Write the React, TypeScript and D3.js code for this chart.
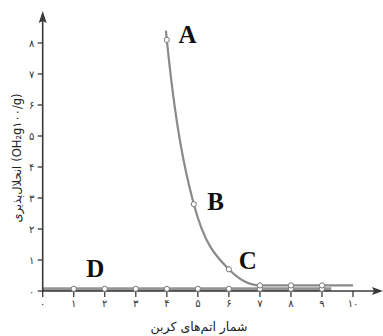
import React from "react";
import * as d3 from "d3";

const xTicks = [0, 1, 2, 3, 4, 5, 6, 7, 8, 9, 10];
const xTickLabels = ["۰", "۱", "۲", "۳", "۴", "۵", "۶", "۷", "۸", "۹", "۱۰"];
const yTicks = [0, 1, 2, 3, 4, 5, 6, 7, 8];
const yTickLabels = ["۰", "۱", "۲", "۳", "۴", "۵", "۶", "۷", "۸"];

// curve series (A, B, C ...)
const curveX = [3.97, 4.0, 4.87, 6.0, 7.0, 8.0, 9.0, 10.0];
const curveY = [8.4, 8.1, 2.8, 0.7, 0.18, 0.18, 0.18, 0.18];
const curveMarkX = [4.0, 4.87, 6.0, 7.0, 8.0, 9.0];
const curveMarkY = [8.1, 2.8, 0.7, 0.18, 0.18, 0.18];

// series D (near zero)
const dX = [0, 9.3];
const dY = [0.06, 0.06];
const dMarkX = [1, 2, 3, 4, 5, 6, 7, 8, 9];
const dMarkY = [0.07, 0.07, 0.07, 0.07, 0.07, 0.07, 0.07, 0.07, 0.07];

const pointLabels = ["A", "B", "C", "D"];
const pointLabelX = [4.38, 5.3, 6.32, 1.4];
const pointLabelY = [8.0, 2.6, 0.72, 0.45];

const xTitle = "شمار اتم‌های کربن";
const yTitleWord = "انحلال‌پذیری";
const yTitleUnit = "(OH₂g۱۰۰/g)";

export default function App() {
  const W = 383;
  const H = 336;
  const x = d3.scaleLinear().domain([0, 10]).range([42.7, 353]);
  const y = d3.scaleLinear().domain([0, 8]).range([291, 43]);

  const line = d3
    .line<[number, number]>()
    .x((d) => x(d[0]))
    .y((d) => y(d[1]))
    .curve(d3.curveMonotoneX);
  const curvePts: [number, number][] = curveX.map((v, i) => [v, curveY[i]]);
  const dPts: [number, number][] = dX.map((v, i) => [v, dY[i]]);
  const straight = d3
    .line<[number, number]>()
    .x((d) => x(d[0]))
    .y((d) => y(d[1]));

  const axisColor = "#3a3a3a";
  const x0 = x(0);
  const y0 = y(0);

  return (
    <svg
      width={W}
      height={H}
      style={{ position: "absolute", left: 0, top: 0, background: "#fff" }}
    >
      {/* series D band */}
      <path d={straight(dPts) || ""} stroke="#959595" strokeWidth={4} fill="none" />

      {/* axes */}
      <line x1={x0} y1={y0} x2={374} y2={y0} stroke={axisColor} strokeWidth={1.6} />
      <path d={`M383,${y0} L372,${y0 - 4} L374,${y0} L372,${y0 + 4} Z`} fill={axisColor} />
      <line x1={x0} y1={y0 + 1} x2={x0} y2={20} stroke={axisColor} strokeWidth={1.6} />
      <path d={`M${x0},11 L${x0 - 4},23 L${x0},21 L${x0 + 4},23 Z`} fill={axisColor} />

      {/* x ticks */}
      {xTicks.map((t, i) => (
        <g key={"xt" + i}>
          <line x1={x(t)} x2={x(t)} y1={y0} y2={y0 + 6} stroke={axisColor} strokeWidth={1.3} />
          <text
            x={x(t)}
            y={y0 + 16}
            textAnchor="middle"
            fontSize={10}
            fontFamily="DejaVu Sans"
            fill="#333"
          >
            {xTickLabels[i]}
          </text>
        </g>
      ))}
      {/* y ticks */}
      {yTicks.map((t, i) => (
        <g key={"yt" + i}>
          <line x1={x0 - 5} x2={x0} y1={y(t)} y2={y(t)} stroke={axisColor} strokeWidth={1.3} />
          <text
            x={x0 - 11}
            y={y(t) + 3.5}
            textAnchor="middle"
            fontSize={10}
            fontFamily="DejaVu Sans"
            fill="#333"
          >
            {yTickLabels[i]}
          </text>
        </g>
      ))}

      {/* curve */}
      <path d={line(curvePts) || ""} stroke="#8a8a8a" strokeWidth={2.2} fill="none" />

      {/* markers */}
      {dMarkX.map((v, i) => (
        <circle key={"dm" + i} cx={x(v)} cy={y(dMarkY[i])} r={2.6} fill="#fff" stroke="#777" strokeWidth={1} />
      ))}
      {curveMarkX.map((v, i) => (
        <circle key={"cm" + i} cx={x(v)} cy={y(curveMarkY[i])} r={2.6} fill="#fff" stroke="#777" strokeWidth={1} />
      ))}

      {/* point labels */}
      {pointLabels.map((s, i) => (
        <text
          key={"pl" + i}
          x={x(pointLabelX[i])}
          y={y(pointLabelY[i])}
          fontSize={25}
          fontWeight="bold"
          fontFamily="Liberation Serif"
          fill="#111"
        >
          {s}
        </text>
      ))}

      {/* titles */}
      <text
        x={199}
        y={331}
        textAnchor="middle"
        fontSize={12.5}
        fontFamily="DejaVu Sans"
        fill="#222"
        direction="rtl"
      >
        {xTitle}
      </text>
      <text
        transform={`translate(17,158) rotate(-90)`}
        textAnchor="middle"
        dominantBaseline="middle"
        fontSize={11.5}
        fontFamily="DejaVu Sans"
        fill="#222"
        direction="ltr"
      >
        <tspan>{yTitleWord}</tspan>
        <tspan dx={4}>{yTitleUnit}</tspan>
      </text>
    </svg>
  );
}
